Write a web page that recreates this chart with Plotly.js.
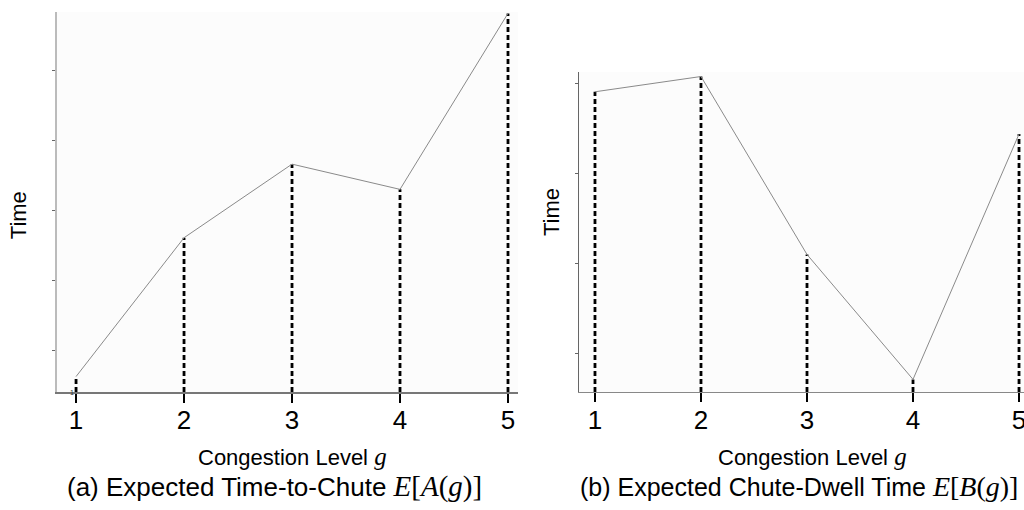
<!DOCTYPE html>
<html>
<head>
<meta charset="utf-8">
<script src="https://cdn.plot.ly/plotly-3.0.1.min.js"></script>
<style>html,body{margin:0;padding:0;background:#fff;}#chart{width:1024px;height:510px;}</style>
</head>
<body>
<div id="chart"></div>
<script>
// Congestion levels
const levels = [1, 2, 3, 4, 5];
const levelLabels = ['1', '2', '3', '4', '5'];
// (a) Expected Time-to-Chute E[A(g)] (unlabelled axis units)
const timeToChute = [0.63, 2.61, 3.66, 3.30, 5.81];
// (b) Expected Chute-Dwell Time E[B(g)] (unlabelled axis units)
const chuteDwell = [3.91, 4.08, 2.10, 0.71, 3.44];
const yTicksA = [1, 2, 3, 4, 5];
const yTicksB = [1, 2, 3, 4];

const yMinA = 0.41, yMaxA = 5.83;
const yMinB = 0.57, yMaxB = 4.13;

const SANS = 'Liberation Sans, Arial, sans-serif';

const traces = [];
function addPanel(vals, xa, ya, ymin) {
  levels.forEach((g, i) => {
    traces.push({
      x: [g, g], y: [ymin, vals[i]], xaxis: xa, yaxis: ya,
      mode: 'lines', hoverinfo: 'skip', showlegend: false,
      line: {color: '#000', width: 2.8, dash: '5px,3px'}
    });
  });
  traces.push({
    x: levels, y: vals, xaxis: xa, yaxis: ya,
    mode: 'lines', showlegend: false,
    line: {color: '#8a8a8a', width: 1}
  });
}
addPanel(timeToChute, 'x', 'y', yMinA);
addPanel(chuteDwell, 'x2', 'y2', yMinB);

function xAxis(domain, range, anchor, lc, lw) {
  return {
    domain: domain, range: range, anchor: anchor,
    tickmode: 'array', tickvals: levels, ticktext: levelLabels,
    ticks: 'outside', ticklen: 9, tickwidth: 2.8, tickcolor: '#000',
    ticklabelstandoff: -5, ticklabeloverflow: 'allow',
    tickfont: {family: SANS, size: 26, color: '#000'},
    showline: true, linecolor: lc, linewidth: lw,
    showgrid: false, zeroline: false, fixedrange: true
  };
}
function yAxis(domain, range, anchor, ticks, lc, lw) {
  return {
    domain: domain, range: range, anchor: anchor,
    tickmode: 'array', tickvals: ticks, showticklabels: false,
    ticks: 'outside', ticklen: 3, tickwidth: 1, tickcolor: '#666',
    showline: true, linecolor: lc, linewidth: lw,
    showgrid: false, zeroline: false, fixedrange: true
  };
}

const SERIF = "'Liberation Serif'";
const mathA = '<span style="font-family:' + SERIF + ';font-size:29px"><i>E</i>[<i>A</i>(<i>g</i>)]</span>';
const mathB = '<span style="font-family:' + SERIF + ';font-size:28px"><i>E</i>[<i>B</i>(<i>g</i>)]</span>';
const gItal = '<span style="font-family:' + SERIF + ';font-size:25px"><i>g</i></span>';

function ann(text, x, y, size, angle) {
  return {
    text: text, x: x, y: y, xref: 'paper', yref: 'paper',
    xanchor: 'center', yanchor: 'middle', showarrow: false,
    textangle: angle || 0,
    font: {family: SANS, size: size, color: '#000'}
  };
}

const layout = {
  width: 1024, height: 510,
  margin: {l: 0, r: 0, t: 0, b: 0},
  paper_bgcolor: '#ffffff', plot_bgcolor: '#fcfcfc',
  showlegend: false,
  xaxis: xAxis([0.0557, 0.5059], [0.824, 5.093], 'y', '#777', 2),
  yaxis: yAxis([0.2314, 0.9765], [yMinA, yMaxA], 'x', yTicksA, '#bbbbbb', 2),
  xaxis2: xAxis([0.5654, 1.0], [0.849, 5.047], 'y2', '#888', 1.5),
  yaxis2: yAxis([0.2314, 0.8588], [yMinB, yMaxB], 'x2', yTicksB, '#666', 1),
  annotations: [
    ann('Time', 0.0176, 0.578, 22, -90),
    ann('Time', 0.538, 0.584, 22, -90),
    ann('Congestion Level ' + gItal, 0.2861, 0.104, 22),
    ann('Congestion Level ' + gItal, 0.793, 0.104, 22),
    ann('(a) Expected Time-to-Chute ' + mathA, 0.2685, 0.046, 26),
    {text: '(b) Expected Chute-Dwell Time ' + mathB, x: 0.9961, y: 0.046, xref: 'paper', yref: 'paper',
     xanchor: 'right', yanchor: 'middle', showarrow: false,
     font: {family: SANS, size: 25, color: '#000'}},
    {text: '1', x: 1, xref: 'x', xshift: -4, y: 0.2314, yref: 'paper', yshift: -6,
     showarrow: false, font: {family: SANS, size: 7, color: '#333'}}
  ]
};

Plotly.newPlot('chart', traces, layout, {staticPlot: true, displayModeBar: false});
</script>
</body>
</html>
